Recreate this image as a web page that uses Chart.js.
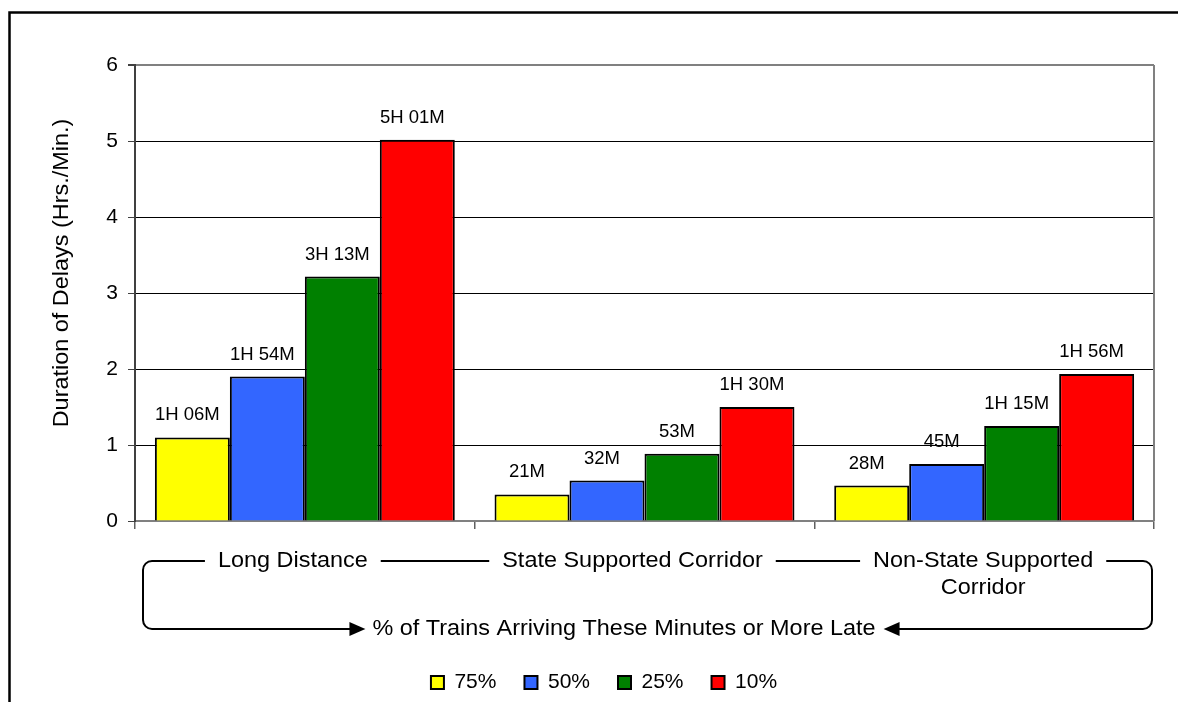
<!DOCTYPE html>
<html>
<head>
<meta charset="utf-8">
<script src="https://cdn.jsdelivr.net/npm/chart.js@4.4.1/dist/chart.umd.min.js"></script>
<style>
  html, body { margin: 0; padding: 0; background: #ffffff; }
  #wrap { width: 1178px; height: 702px; position: relative; }
  canvas { display: block; }
</style>
</head>
<body>
<div id="wrap"><canvas id="delays" width="1178" height="702"></canvas></div>
<script>
// Route groups shown along the bottom bracket
const categories = ['Long Distance', 'State Supported Corridor', ['Non-State Supported', 'Corridor']];
const bracketCaption = '% of Trains Arriving These Minutes or More Late';

// Delay thresholds, in minutes, per share of trains arriving that late or later
const seriesNames = ['75%', '50%', '25%', '10%'];
const minutes75 = [66, 21, 28];
const minutes50 = [114, 32, 45];
const minutes25 = [193, 53, 75];
const minutes10 = [301, 90, 116];

const yTicks = [0, 1, 2, 3, 4, 5, 6];
const yTitle = 'Duration of Delays (Hrs./Min.)';

const seriesColors = ['#FFFF00', '#3366FF', '#008000', '#FF0000'];
const FONT = "'Liberation Sans', Arial, Helvetica, sans-serif";

// "1H 06M" / "21M"
function formatDuration(min) {
  const h = Math.floor(min / 60);
  const m = min % 60;
  const mm = String(m).padStart(2, '0');
  return h > 0 ? h + 'H ' + mm + 'M' : m + 'M';
}

const seriesMinutes = [minutes75, minutes50, minutes25, minutes10];

// Text drawn slightly wide, centred on (x, y); returns its drawn width
const TEXT_STRETCH = 1.09;
function wideText(ctx, text, x, y) {
  const w = ctx.measureText(text).width * TEXT_STRETCH;
  ctx.save();
  ctx.translate(x, y);
  ctx.scale(TEXT_STRETCH, 1);
  ctx.fillText(text, 0, 0);
  ctx.restore();
  return w;
}

// White page plus the outer frame line (top and left edges)
const framePlugin = {
  id: 'frame',
  beforeDraw(chart) {
    const ctx = chart.ctx;
    ctx.save();
    ctx.fillStyle = '#ffffff';
    ctx.fillRect(0, 0, chart.width, chart.height);
    ctx.strokeStyle = '#000000';
    ctx.lineWidth = 2.5;
    ctx.beginPath();
    ctx.moveTo(9.5, chart.height + 5);
    ctx.lineTo(9.5, 12.5);
    ctx.lineTo(chart.width + 5, 12.5);
    ctx.stroke();
    ctx.restore();
  }
};

// Right edge of the plot box and the rotated value-axis title
const plotBoxPlugin = {
  id: 'plotBox',
  afterDraw(chart) {
    const ctx = chart.ctx;
    const a = chart.chartArea;
    ctx.save();
    ctx.strokeStyle = '#808080';
    ctx.lineWidth = 2;
    ctx.beginPath();
    ctx.moveTo(a.right, a.top);
    ctx.lineTo(a.right, a.bottom);
    ctx.stroke();

    ctx.fillStyle = '#000000';
    ctx.font = '21.5px ' + FONT;
    ctx.textAlign = 'center';
    ctx.textBaseline = 'middle';
    ctx.translate(62, 273);
    ctx.rotate(-Math.PI / 2);
    ctx.scale(TEXT_STRETCH, 1);
    ctx.fillText(yTitle, 0, 0);
    ctx.restore();
  }
};

// Duration labels above each bar
const barLabelPlugin = {
  id: 'barLabels',
  afterDatasetsDraw(chart) {
    const ctx = chart.ctx;
    ctx.save();
    ctx.fillStyle = '#000000';
    ctx.font = '18.5px ' + FONT;
    ctx.textAlign = 'center';
    ctx.textBaseline = 'middle';
    chart.data.datasets.forEach((ds, di) => {
      const meta = chart.getDatasetMeta(di);
      meta.data.forEach((bar, i) => {
        ctx.fillText(formatDuration(ds.minutes[i]), bar.x - 5, bar.y - 22);
      });
    });
    ctx.restore();
  }
};

// Bracket under the axis: group names on the top run, caption with arrows on the bottom run
const bracketPlugin = {
  id: 'bracket',
  afterDraw(chart) {
    const ctx = chart.ctx;
    const xs = chart.scales.x;
    const yTop = 561, yBot = 629, xL = 143, xR = 1152, r = 9, gap = 13;
    const lineGap = 27;
    ctx.save();
    ctx.font = '21.5px ' + FONT;
    ctx.fillStyle = '#000000';
    ctx.strokeStyle = '#000000';
    ctx.lineWidth = 2;
    ctx.textAlign = 'center';
    ctx.textBaseline = 'middle';

    const spans = categories.map((lab, i) => {
      const lines = Array.isArray(lab) ? lab : [lab];
      const cx = xs.getPixelForValue(i) - (i < 2 ? 12 : 1);
      const widths = lines.map((t, k) => wideText(ctx, t, cx, yTop + k * lineGap));
      return [cx - widths[0] / 2, cx + widths[0] / 2];
    });

    // top run segments between the labels
    ctx.beginPath();
    ctx.moveTo(xL + r, yTop);
    ctx.lineTo(spans[0][0] - gap, yTop);
    for (let i = 0; i < spans.length - 1; i++) {
      ctx.moveTo(spans[i][1] + gap, yTop);
      ctx.lineTo(spans[i + 1][0] - gap, yTop);
    }
    ctx.moveTo(spans[spans.length - 1][1] + gap, yTop);
    ctx.lineTo(xR - r, yTop);
    ctx.stroke();

    // caption on the bottom run
    const capX = 624;
    const cw = wideText(ctx, bracketCaption, capX, yBot);
    const tipL = capX - cw / 2 - 7;
    const tipR = capX + cw / 2 + 8;
    const ah = 16, aw = 7;

    // left side: top-left corner down and right to the first arrow
    ctx.beginPath();
    ctx.moveTo(xL + r, yTop);
    ctx.arcTo(xL, yTop, xL, yTop + r, r);
    ctx.lineTo(xL, yBot - r);
    ctx.arcTo(xL, yBot, xL + r, yBot, r);
    ctx.lineTo(tipL - ah + 2, yBot);
    ctx.stroke();

    // right side: top-right corner down and left to the second arrow
    ctx.beginPath();
    ctx.moveTo(xR - r, yTop);
    ctx.arcTo(xR, yTop, xR, yTop + r, r);
    ctx.lineTo(xR, yBot - r);
    ctx.arcTo(xR, yBot, xR - r, yBot, r);
    ctx.lineTo(tipR + ah - 2, yBot);
    ctx.stroke();

    // arrowheads
    ctx.beginPath();
    ctx.moveTo(tipL, yBot);
    ctx.lineTo(tipL - ah, yBot - aw);
    ctx.lineTo(tipL - ah, yBot + aw);
    ctx.closePath();
    ctx.fill();
    ctx.beginPath();
    ctx.moveTo(tipR, yBot);
    ctx.lineTo(tipR + ah, yBot - aw);
    ctx.lineTo(tipR + ah, yBot + aw);
    ctx.closePath();
    ctx.fill();
    ctx.restore();
  }
};

const datasets = seriesMinutes.map((mins, i) => ({
  label: seriesNames[i],
  data: mins.map(m => m / 60),
  minutes: mins,
  backgroundColor: seriesColors[i],
  borderColor: '#000000',
  borderWidth: 2,
  borderSkipped: 'bottom',
  categoryPercentage: 0.883,
  barPercentage: 1.0
}));

new Chart(document.getElementById('delays'), {
  type: 'bar',
  data: { labels: categories, datasets },
  options: {
    responsive: false,
    animation: false,
    devicePixelRatio: 1,
    layout: { padding: { top: 65, right: 24, bottom: -1, left: 54 } },
    plugins: {
      tooltip: { enabled: false },
      legend: {
        position: 'bottom',
        labels: {
          boxWidth: 13,
          boxHeight: 13,
          padding: 28,
          color: '#000000',
          font: { family: FONT, size: 21 }
        }
      }
    },
    scales: {
      x: {
        offset: true,
        grid: { offset: true, drawOnChartArea: false, tickLength: 8, color: '#606060', lineWidth: 1.5 },
        border: { color: '#808080', width: 2 },
        ticks: { display: false },
        afterFit(scale) { scale.height = 123; }
      },
      y: {
        min: 0,
        max: 6,
        afterBuildTicks(scale) { scale.ticks = yTicks.map(v => ({ value: v })); },
        ticks: { color: '#000000', padding: 10, font: { family: FONT, size: 21 } },
        grid: {
          color: c => (c.tick && c.tick.value === 6 ? '#808080' : '#000000'),
          lineWidth: c => (c.tick && c.tick.value === 6 ? 2 : 1),
          tickLength: 7,
          tickColor: '#404040'
        },
        border: { color: '#404040', width: 2 },
        afterFit(scale) { scale.width = 81; }
      }
    }
  },
  plugins: [framePlugin, plotBoxPlugin, barLabelPlugin, bracketPlugin]
});
</script>
</body>
</html>
